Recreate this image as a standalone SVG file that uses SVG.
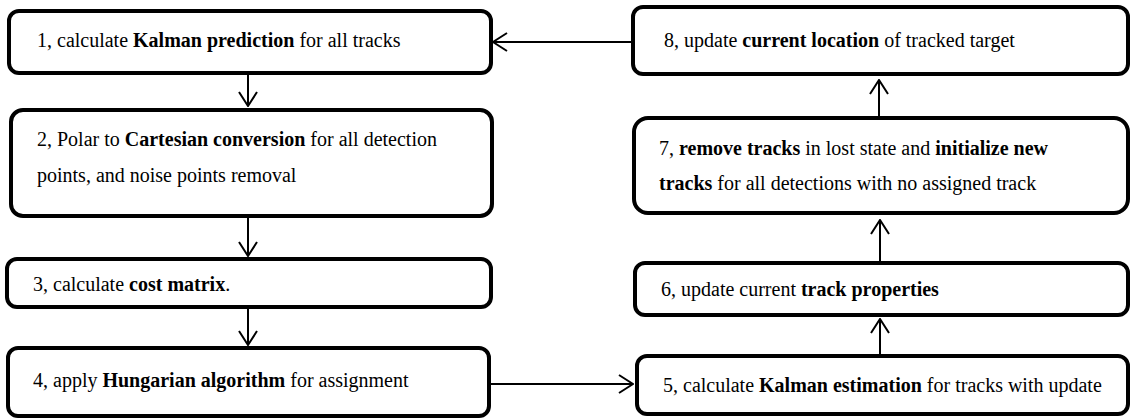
<svg xmlns="http://www.w3.org/2000/svg" width="1136" height="420" viewBox="0 0 1136 420">
  <style>
    .box { fill: #ffffff; stroke: #000000; stroke-width: 4; }
    .lbl { font-size: 20px; fill: #000000; }
    .b { font-weight: bold; }
    .wire { fill: none; stroke: #000000; stroke-width: 2; }
  </style>
  <defs>
    <marker id="head" viewBox="0 0 16 20" refX="15" refY="10" markerWidth="16" markerHeight="20" markerUnits="userSpaceOnUse" orient="auto">
      <path d="M1,1 L15,10 L1,19" fill="none" stroke="#000000" stroke-width="2"/>
    </marker>
  </defs>
  <rect width="1136" height="420" fill="#ffffff"/>

  <g font-family="Liberation Serif, Times New Roman, DejaVu Serif, serif">
    <!-- left column: steps 1 to 4 -->
    <g id="step1">
      <rect class="box" x="9" y="11" width="482" height="62" rx="10"/>
      <text class="lbl" x="37" y="47">1, calculate <tspan class="b">Kalman prediction</tspan> for all tracks</text>
    </g>
    <g id="step2">
      <rect class="box" x="11" y="110" width="481" height="106" rx="12"/>
      <text class="lbl" x="37" y="146">2, Polar to <tspan class="b">Cartesian conversion</tspan> for all detection</text>
      <text class="lbl" x="37" y="182">points, and noise points removal</text>
    </g>
    <g id="step3">
      <rect class="box" x="7" y="259" width="484" height="48" rx="10"/>
      <text class="lbl" x="33" y="291">3, calculate <tspan class="b">cost matrix</tspan>.</text>
    </g>
    <g id="step4">
      <rect class="box" x="8" y="348" width="481" height="68" rx="10"/>
      <text class="lbl" x="33" y="387">4, apply <tspan class="b">Hungarian algorithm</tspan> for assignment</text>
    </g>

    <!-- right column: steps 5 to 8 -->
    <g id="step5">
      <rect class="box" x="637" y="356" width="491" height="58" rx="10"/>
      <text class="lbl" x="663" y="392">5, calculate <tspan class="b">Kalman estimation</tspan> for tracks with update</text>
    </g>
    <g id="step6">
      <rect class="box" x="635" y="263" width="493" height="52" rx="10"/>
      <text class="lbl" x="661" y="296">6, update current <tspan class="b">track properties</tspan></text>
    </g>
    <g id="step7">
      <rect class="box" x="634" y="118" width="494" height="95" rx="14"/>
      <text class="lbl" x="659" y="155">7, <tspan class="b">remove tracks</tspan> in lost state and <tspan class="b">initialize new</tspan></text>
      <text class="lbl" x="659" y="190"><tspan class="b">tracks</tspan> for all detections with no assigned track</text>
    </g>
    <g id="step8">
      <rect class="box" x="633" y="7" width="495" height="67" rx="10"/>
      <text class="lbl" x="664" y="47">8, update <tspan class="b">current location</tspan> of tracked target</text>
    </g>
  </g>

  <!-- connectors -->
  <g id="connectors">
    <line class="wire" x1="248" y1="73" x2="248" y2="106" marker-end="url(#head)"/>
    <line class="wire" x1="248" y1="216" x2="248" y2="256" marker-end="url(#head)"/>
    <line class="wire" x1="248" y1="307" x2="248" y2="345" marker-end="url(#head)"/>
    <line class="wire" x1="489" y1="384" x2="633" y2="384" marker-end="url(#head)"/>
    <line class="wire" x1="880" y1="356" x2="880" y2="319" marker-end="url(#head)"/>
    <line class="wire" x1="880" y1="263" x2="880" y2="220" marker-end="url(#head)"/>
    <line class="wire" x1="879" y1="118" x2="879" y2="80" marker-end="url(#head)"/>
    <line class="wire" x1="633" y1="42" x2="493" y2="42" marker-end="url(#head)"/>
  </g>
</svg>
